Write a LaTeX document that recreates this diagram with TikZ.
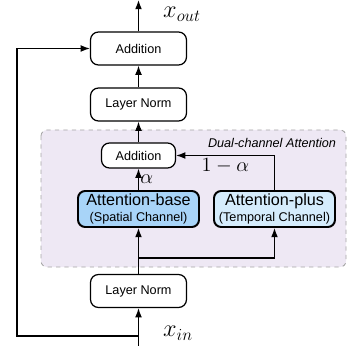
\documentclass[tikz,border=0pt]{standalone}
\usepackage{fontspec}
\setmainfont{Liberation Sans}
\usepackage{amsmath}
\usepackage{xcolor}
\usepackage{tikz}
\usetikzlibrary{arrows.meta}

\definecolor{regionfill}{HTML}{EEE8F4}
\definecolor{basefill}{HTML}{A8D4F8}
\definecolor{plusfill}{HTML}{D5ECFC}

\begin{document}
\begin{tikzpicture}[x=0.25mm, y=-0.25mm,
    box/.style={rectangle, rounded corners=2mm, draw, line width=0.9pt, fill=white,
        minimum width=24mm, minimum height=8.25mm, inner sep=0pt, font=\fontsize{9}{10}\selectfont},
    attbox/.style={rectangle, rounded corners=1.8mm, draw, line width=1.4pt, align=center,
        minimum width=30.25mm, minimum height=9mm, inner sep=0pt, font=\fontsize{11.5}{12.5}\selectfont},
    arr/.style={-{Latex[length=2.3mm, width=1.7mm]}, line width=0.8pt},
    lbl/.style={inner sep=2pt}]
    \useasboundingbox (0,0) rectangle (347,346);

    % dual-channel region
    \draw[dashed, gray!70, fill=regionfill, line width=0.6pt, rounded corners=1.5mm] (41,130) rectangle (346,267);
    \node[anchor=east, font=\fontsize{9}{10}\selectfont\itshape] (title) at (341,143) {Dual-channel Attention};

    \node[box] (add_out) at (138.5,48.5) {Addition};
    \node[box] (norm_top) at (138.5,104.5) {Layer Norm};
    \node[box, minimum width=18.5mm, minimum height=6.25mm] (add_in) at (138.5,155.5) {Addition};
    \node[attbox, fill=basefill] (att_base) at (138.5,209) {Attention-base\\[-1pt]{\fontsize{9}{10}\selectfont (Spatial Channel)}};
    \node[attbox, fill=plusfill] (att_plus) at (274.5,209) {Attention-plus\\[-1pt]{\fontsize{9}{10}\selectfont (Temporal Channel)}};
    \node[box] (norm_bot) at (138.5,291) {Layer Norm};

    \coordinate (in_pt) at (138.5,346);
    \coordinate (out_pt) at (138.5,0);
    \coordinate (skip) at (138.5,336);
    \coordinate (loop) at (17,48.5);
    \coordinate (branch) at (138.5,258);

    % input and residual path
    \draw[arr] (in_pt) -- (norm_bot);
    \draw[arr] (skip) -| (loop) -- (add_out);
    \node[lbl, font=\LARGE] (x_in) at (178,333) {$x_{in}$};

    % two channels
    \draw[line width=0.8pt] (norm_bot) -- (branch);
    \draw[arr] (branch) -- (att_base);
    \draw[arr] (branch) -| (att_plus);
    \draw[arr] (att_base) -- node[lbl, right, inner sep=1pt, font=\Large] (alpha) {$\alpha$} (add_in);
    \draw[arr] (att_plus) |- node[lbl, pos=0.75, below, font=\Large] (beta) {$1-\alpha$} (add_in);

    % output
    \draw[arr] (add_in) -- (norm_top);
    \draw[arr] (norm_top) -- (add_out);
    \draw[arr] (add_out) -- (out_pt);
    \node[lbl, font=\LARGE] (x_out) at (182,14) {$x_{out}$};
\end{tikzpicture}
\end{document}
